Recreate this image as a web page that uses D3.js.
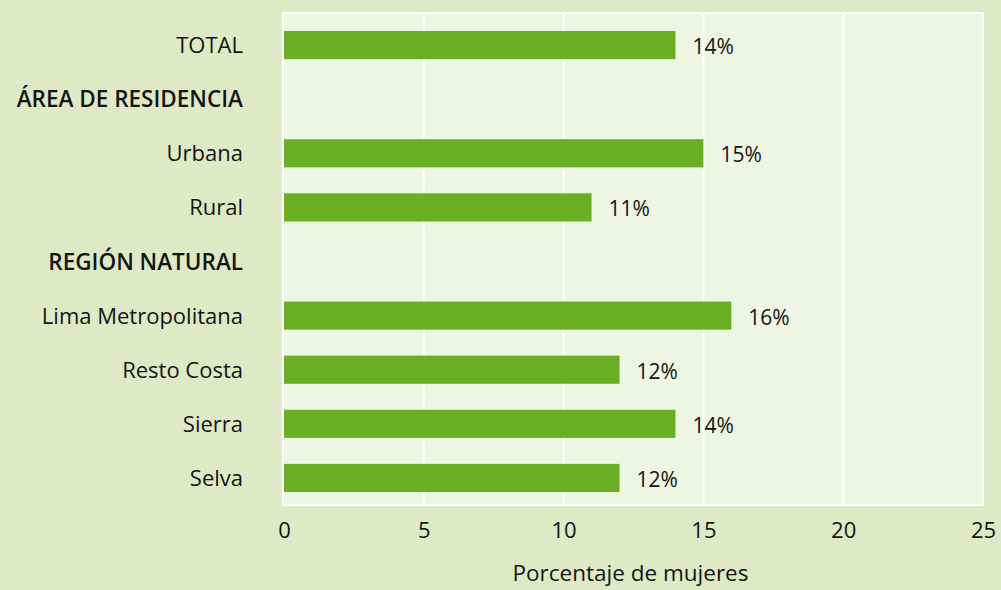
<!DOCTYPE html>
<html>
<head>
<meta charset="utf-8">
<script src="https://cdn.jsdelivr.net/npm/d3@7"></script>
<style>
  html, body { margin: 0; padding: 0; background: #dfe9c6; }
  svg { display: block; }
  text { font-family: "Open Sans", "Noto Sans", sans-serif; fill: #141414; }
</style>
</head>
<body>
<svg id="chart" width="1001" height="590"></svg>
<script>
// Rows from top to bottom; section headers carry no value
const categories = ["TOTAL", "ÁREA DE RESIDENCIA", "Urbana", "Rural", "REGIÓN NATURAL",
                    "Lima Metropolitana", "Resto Costa", "Sierra", "Selva"];
const headers = ["ÁREA DE RESIDENCIA", "REGIÓN NATURAL"];
const values = [14, null, 15, 11, null, 16, 12, 14, 12];
const tickValues = [0, 5, 10, 15, 20, 25];
const axisTitle = "Porcentaje de mujeres";

const svg = d3.select("#chart");
const plot = { left: 284, right: 983, top: 13, bottom: 505 };

const x = d3.scaleLinear().domain([0, 25]).range([plot.left, plot.right]);
const y = d3.scaleBand().domain(categories).range([18, plot.bottom]).paddingInner(0.48).paddingOuter(0.24);

// plot background
svg.append("rect")
  .attr("x", plot.left - 1).attr("y", plot.top)
  .attr("width", plot.right - plot.left + 1).attr("height", plot.bottom - plot.top)
  .attr("fill", "#eef5e3").attr("stroke", "#ffffff").attr("stroke-width", 2);

// vertical gridlines
svg.append("g").selectAll("line")
  .data(tickValues.slice(1, -1))
  .join("line")
  .attr("x1", d => x(d)).attr("x2", d => x(d))
  .attr("y1", plot.top).attr("y2", plot.bottom)
  .attr("stroke", "#ffffff").attr("stroke-width", 2);

// bars
const rows = categories.map((c, i) => ({ c, v: values[i] })).filter(d => d.v !== null);
svg.append("g").selectAll("rect")
  .data(rows)
  .join("rect")
  .attr("x", x(0))
  .attr("y", d => y(d.c))
  .attr("width", d => x(d.v) - x(0))
  .attr("height", y.bandwidth())
  .attr("fill", "#6aaf23");

// value labels
svg.append("g").selectAll("text")
  .data(rows)
  .join("text")
  .attr("x", d => x(d.v) + 17)
  .attr("y", d => y(d.c) + y.bandwidth() / 2 + 9)
  .attr("font-size", 21)
  .text(d => d.v + "%");

// category labels
svg.append("g").selectAll("text")
  .data(categories)
  .join("text")
  .attr("x", 243)
  .attr("y", d => y(d) + y.bandwidth() / 2 + 8)
  .attr("text-anchor", "end")
  .attr("font-size", d => headers.includes(d) ? 22.5 : 22)
  .attr("font-weight", d => headers.includes(d) ? 600 : 400)
  .text(d => d);

// x axis tick labels
const xAxis = d3.axisBottom(x).tickValues(tickValues).tickSize(0).tickPadding(0);
const gx = svg.append("g").attr("transform", `translate(0, ${plot.bottom})`).call(xAxis);
gx.select(".domain").remove();
gx.selectAll("text")
  .attr("dy", null)
  .attr("y", 33)
  .attr("font-size", 22)
  .attr("font-family", "\"Open Sans\", \"Noto Sans\", sans-serif")
  .attr("fill", "#141414");

// axis title
svg.append("text")
  .attr("x", (plot.left + plot.right) / 2 - 3)
  .attr("y", 581)
  .attr("text-anchor", "middle")
  .attr("font-size", 22.5)
  .text(axisTitle);
</script>
</body>
</html>
